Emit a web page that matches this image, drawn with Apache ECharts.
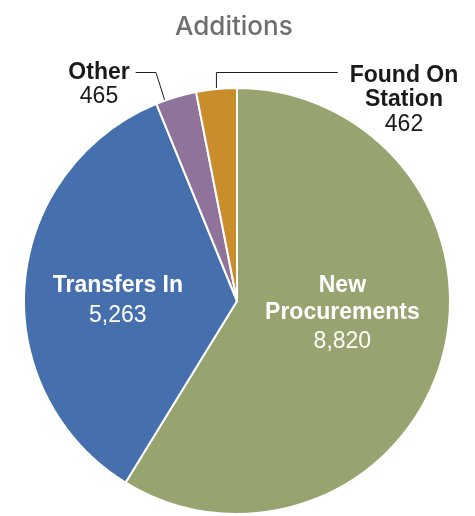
<!DOCTYPE html>
<html><head><meta charset="utf-8">
<script src="https://cdn.jsdelivr.net/npm/echarts@6/dist/echarts.min.js"></script>
<style>html,body{margin:0;padding:0;background:#fff}#c{width:475px;height:516px}</style>
</head><body><div id="c"></div>
<script>
const chartTitle = 'Additions';
const categories = ['New Procurements', 'Transfers In', 'Other', 'Found On Station'];
const labelNames = ['New\nProcurements', 'Transfers In', 'Other', 'Found On\nStation'];
const values = [8820, 5263, 465, 462];
const colors = ['#98A470', '#4670AD', '#90739A', '#C98E2B'];

const FONT = '"Liberation Sans", Arial, Helvetica, sans-serif';
const chart = echarts.init(document.getElementById('c'), null, {renderer: 'canvas'});

const insideRich = {
  n: {fontFamily: FONT, fontSize: 23, fontWeight: 'bold', color: '#fff', lineHeight: 27, align: 'center'},
  v: {fontFamily: FONT, fontSize: 23, color: '#fff', lineHeight: 32, align: 'center'}
};
const outsideRich = {
  n: {fontFamily: FONT, fontSize: 23, fontWeight: 'bold', color: '#1a1a1a', lineHeight: 24.5, align: 'center'},
  v: {fontFamily: FONT, fontSize: 23, color: '#1a1a1a', lineHeight: 24.5, align: 'center'}
};

const data = categories.map((c, i) => {
  const inside = i < 2;
  return {
    name: c,
    value: values[i],
    itemStyle: {color: colors[i]},
    label: {
      show: true,
      position: inside ? 'inside' : 'outside',
      rich: inside ? insideRich : outsideRich
    },
    labelLine: {show: !inside, showAbove: true}
  };
});

chart.setOption({
  animation: false,
  title: {
    text: chartTitle,
    left: 170,
    top: 9,
    textStyle: {fontFamily: 'Inter, ' + FONT, fontSize: 26, fontWeight: 500, color: '#6f6f6f'}
  },
  series: [{
    type: 'pie',
    center: [237, 301],
    radius: 213,
    startAngle: 90,
    clockwise: true,
    avoidLabelOverlap: false,
    itemStyle: {borderColor: '#fff', borderWidth: 2},
    label: {
      formatter: p => '{n|' + labelNames[p.dataIndex] + '}\n{v|' + p.value.toLocaleString('en-US') + '}'
    },
    labelLine: {show: true, showAbove: true, minTurnAngle: 0, maxSurfaceAngle: 180,
      lineStyle: {color: '#1a1a1a', width: 1}, length: 15, length2: 15},
    labelLayout: function (p) {
      const i = p.dataIndex;
      const w = p.labelRect.width;
      const pts = p.labelLinePoints;
      if (i === 0) return {dy: -16};
      if (i === 1) return {dx: -10, dy: 10};
      if (i === 2) {
        const cx = 99, top = 60, ly = 72.5;
        const s = pts[0];
        return {x: cx, y: top, align: 'center', verticalAlign: 'top',
          labelLinePoints: [[s[0] - 10, s[1] + 7], [s[0] - 20, ly], [cx + w / 2 + 6, ly]]};
      }
      if (i === 3) {
        const cx = 404, top = 63, ly = 72.5;
        const s = pts[0];
        return {x: cx, y: top, align: 'center', verticalAlign: 'top',
          labelLinePoints: [[s[0], s[1] + 15], [s[0], ly], [cx - w / 2 - 12, ly]]};
      }
    },
    data: data
  }]
});
</script>
</body></html>
